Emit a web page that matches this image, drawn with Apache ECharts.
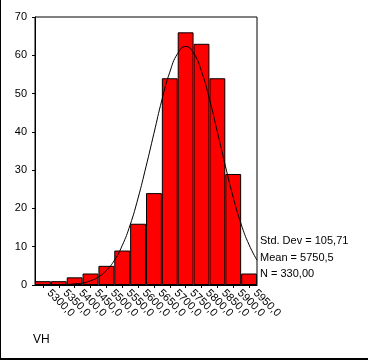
<!DOCTYPE html>
<html>
<head>
<meta charset="utf-8">
<script src="https://cdn.jsdelivr.net/npm/echarts@6/dist/echarts.min.js"></script>
<style>
  html, body { margin: 0; padding: 0; background: #fff; }
  #chart { width: 368px; height: 360px; }
</style>
</head>
<body>
<div id="chart"></div>
<script>
// Histogram bins (bin centres, width 50)
var categories = ['5300,0','5350,0','5400,0','5450,0','5500,0','5550,0','5600,0',
                  '5650,0','5700,0','5750,0','5800,0','5850,0','5900,0','5950,0'];
var counts = [1, 1, 2, 3, 5, 9, 16, 24, 54, 66, 63, 54, 29, 3];

// Fitted normal curve (x in data units, y in counts)
var curveX = [5275,5300,5325,5350,5375,5400,5425,5450,5475,5500,5525,5550,5575,5600,
              5625,5650,5675,5700,5725,5750,5775,5800,5825,5850,5875,5900,5925,5950,5975];
var curveY = [0,0,0,0.05,0.1,0.3,0.5,1.1,2.1,3.8,6.4,10.3,15.7,22.7,
              30.9,39.6,48.3,55.6,60.5,62.3,60.6,55.8,48.6,40.0,31.2,22.9,15.9,10.5,6.5];

var yTicks = [0, 10, 20, 30, 40, 50, 60, 70];
var statsLines = ['Std. Dev = 105,71', 'Mean = 5750,5', 'N = 330,00'];
var axisTitle = 'VH';

var curveData = curveX.map(function (x, i) { return [x, curveY[i]]; });

var chart = echarts.init(document.getElementById('chart'), null, { renderer: 'canvas' });
var font = 'Liberation Sans, Arial, sans-serif';
chart.setOption({
  animation: false,
  backgroundColor: '#ffffff',
  grid: { left: 35, right: 111, top: 17, bottom: 75, show: true,
          borderColor: '#000', borderWidth: 1, backgroundColor: 'transparent' },
  xAxis: [{
    type: 'category',
    data: categories,
    boundaryGap: true,
    axisLine: { lineStyle: { color: '#000', width: 1 } },
    axisTick: { show: true, alignWithLabel: true, length: 3, lineStyle: { color: '#000' } },
    axisLabel: { interval: 0, rotate: -45, margin: 8, color: '#000',
                 verticalAlign: 'bottom', padding: [0, 0, 0, 3],
                 fontFamily: font, fontSize: 11 }
  }, {
    type: 'value',
    min: 5275, max: 5975,
    show: false
  }],
  yAxis: {
    type: 'value',
    min: yTicks[0], max: yTicks[yTicks.length - 1], interval: 10,
    axisLine: { show: true, lineStyle: { color: '#000', width: 1 } },
    axisTick: { show: true, length: 3, lineStyle: { color: '#000' } },
    splitLine: { show: false },
    axisLabel: { margin: 8, color: '#000', fontFamily: font, fontSize: 11 }
  },
  series: [{
    type: 'bar',
    xAxisIndex: 0,
    data: counts,
    barCategoryGap: '0%',
    itemStyle: { color: '#ff0000', borderColor: '#000', borderWidth: 1 }
  }, {
    type: 'line',
    xAxisIndex: 1,
    data: curveData,
    smooth: true,
    showSymbol: false,
    lineStyle: { color: '#000', width: 1 },
    z: 5
  }],
  graphic: [
    { type: 'line', shape: { x1: 0.5, y1: 0, x2: 0.5, y2: 360 }, style: { stroke: '#000', lineWidth: 1 } },
    { type: 'line', shape: { x1: 0, y1: 359, x2: 368, y2: 359 }, style: { stroke: '#000', lineWidth: 2 } },
    { type: 'text', left: 260, top: 235, style: { text: statsLines[0], fill: '#000', font: '11px ' + font } },
    { type: 'text', left: 260, top: 252, style: { text: statsLines[1], fill: '#000', font: '11px ' + font } },
    { type: 'text', left: 260, top: 268, style: { text: statsLines[2], fill: '#000', font: '11px ' + font } },
    { type: 'text', left: 33, top: 334, style: { text: axisTitle, fill: '#000', font: '12px ' + font } }
  ]
});
</script>
</body>
</html>
